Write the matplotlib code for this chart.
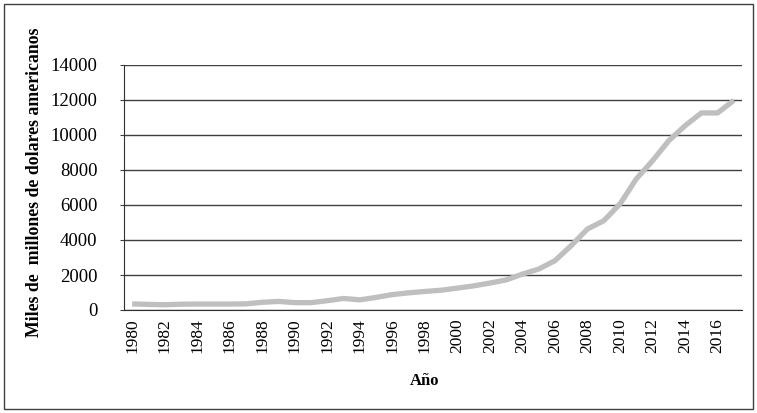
import numpy as np
import matplotlib.pyplot as plt
from matplotlib.patches import Rectangle

# datos
years = list(range(1980, 2018))
values = [350, 320, 300, 330, 340, 340, 340, 350, 440, 490, 420, 420,
          530, 660, 580, 720, 880, 980, 1060, 1130, 1250, 1380, 1540, 1720,
          2050, 2340, 2820, 3680, 4630, 5100, 6060, 7490, 8530, 9680,
          10530, 11260, 11260, 11980]
yticks = [0, 2000, 4000, 6000, 8000, 10000, 12000, 14000]
xtick_years = list(range(1980, 2018, 2))

plt.rcParams['font.family'] = ['Liberation Serif', 'DejaVu Serif']

fig = plt.figure(figsize=(7.57, 4.13), dpi=100)
ax = fig.add_axes([124/757, 1 - 310/413, (742-124)/757, (310-65)/413])

ax.plot(years, values, color='#bfbfbf', linewidth=3.8, solid_capstyle='butt')

ax.set_xlim(1979.5, 2017.5)
ax.set_ylim(0, 14000)
ax.set_yticks(yticks)
ax.set_xticks(xtick_years)
ax.set_xticklabels([str(y) for y in xtick_years], rotation=90)
ax.tick_params(axis='y', labelsize=13.5, length=3, color='#404040', pad=16)
ax.tick_params(axis='x', labelsize=12.5, length=0, pad=6)

ax.grid(axis='y', color='#404040', linewidth=1)
ax.set_axisbelow(True)
for s in ['top', 'right']:
    ax.spines[s].set_visible(False)
ax.spines['left'].set_color('#303030')
ax.spines['bottom'].set_color('#303030')

fig.text(35/757, 1 - 182/413, 'Miles de  millones de dolares americanos', rotation=90,
         fontsize=12.8, fontweight='bold', ha='center', va='center')
fig.text(425/757, 1 - 381/413, 'Año', fontsize=12, fontweight='bold',
         ha='center', va='center')

# marco exterior
fig.patches.append(Rectangle((4/757, 4/413), 749/757, 405/413, transform=fig.transFigure,
                             fill=False, edgecolor='#404040', linewidth=1))

fig.savefig('out.png', dpi=100)
